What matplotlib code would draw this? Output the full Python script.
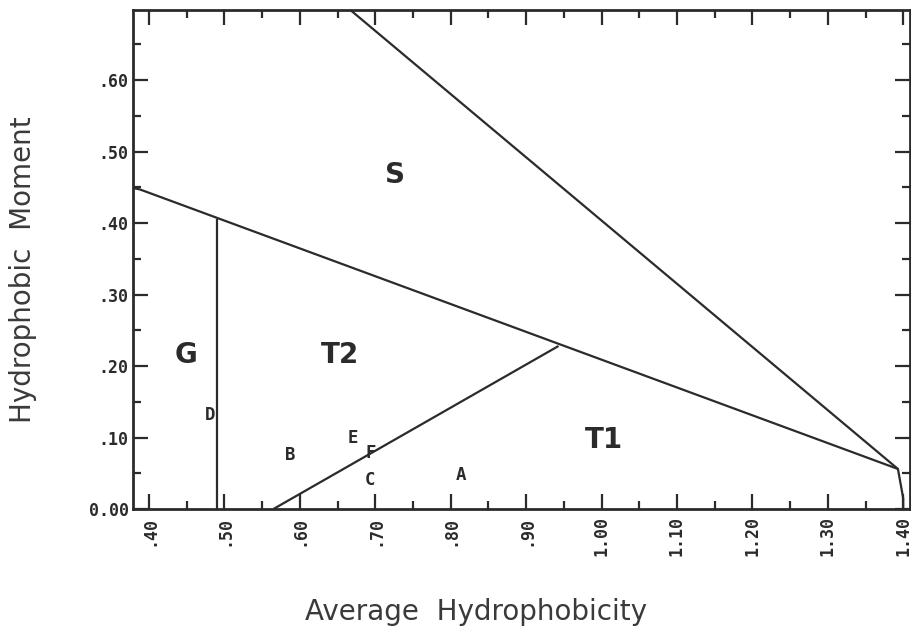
import matplotlib
matplotlib.use("Agg")
import matplotlib.pyplot as plt
from matplotlib.ticker import MultipleLocator

plt.rcParams["font.family"] = "DejaVu Sans"
ink = "#2b2b2b"

# boundary lines of the phase diagram
s_line_x = [0.667, 1.393, 1.40, 1.40]
s_line_y = [0.698, 0.056, 0.015, 0.0]
upper_x = [0.379, 0.388, 1.393]
upper_y = [0.449, 0.447, 0.056]
g_line_x = [0.490, 0.490]
g_line_y = [0.405, 0.0]
t_line_x = [0.565, 0.943]
t_line_y = [0.0, 0.228]

# region names
regions = ["S", "G", "T2", "T1"]
region_x = [0.726, 0.449, 0.653, 1.003]
region_y = [0.467, 0.215, 0.215, 0.097]

# peptides
peps = ["D", "B", "E", "F", "C", "A"]
pep_x = [0.481, 0.587, 0.670, 0.694, 0.693, 0.814]
pep_y = [0.131, 0.075, 0.100, 0.079, 0.040, 0.047]

xticks = [0.40, 0.50, 0.60, 0.70, 0.80, 0.90, 1.00, 1.10, 1.20, 1.30, 1.40]
xlabels = [".40", ".50", ".60", ".70", ".80", ".90", "1.00", "1.10", "1.20", "1.30", "1.40"]
yticks = [0.0, 0.1, 0.2, 0.3, 0.4, 0.5, 0.6]
ylabels = ["0.00", ".10", ".20", ".30", ".40", ".50", ".60"]

fig = plt.figure(figsize=(9.12, 6.33), dpi=100)
ax = fig.add_axes([133/912, 1 - 509/633, 777/912, 499/633])

for xs, ys in [(s_line_x, s_line_y), (upper_x, upper_y), (g_line_x, g_line_y), (t_line_x, t_line_y)]:
    ax.plot(xs, ys, color=ink, lw=1.6, solid_capstyle="butt", clip_on=False)

for name, x, y in zip(regions, region_x, region_y):
    ax.text(x, y, name, ha="center", va="center", fontsize=20, fontweight="bold", color=ink)

for name, x, y in zip(peps, pep_x, pep_y):
    ax.text(x, y, name, ha="center", va="center", fontsize=12.5, color=ink,
            family="DejaVu Sans Mono", fontweight="bold")

ax.set_xlim(0.3788, 1.409)
ax.set_ylim(0, 0.698)
ax.set_xticks(xticks)
ax.set_xticklabels(xlabels, rotation=90, fontsize=12, color=ink,
                   family="DejaVu Sans Mono", fontweight="bold")
ax.set_yticks(yticks)
ax.set_yticklabels(ylabels, fontsize=12, color=ink,
                   family="DejaVu Sans Mono", fontweight="bold")
ax.xaxis.set_minor_locator(MultipleLocator(0.05))
ax.yaxis.set_minor_locator(MultipleLocator(0.05))
ax.tick_params(which="both", direction="in", top=True, right=True, color=ink, width=1.6)
ax.tick_params(which="major", length=11, pad=5)
ax.tick_params(which="minor", length=6)
ax.tick_params(axis="y", which="major", pad=3)
for sp in ax.spines.values():
    sp.set_linewidth(2)
    sp.set_color(ink)

# axis titles, placed like the scanned figure
ax.set_xlabel("Average  Hydrophobicity", fontsize=20, color="#3a3a3a")
ax.set_ylabel("Hydrophobic  Moment", fontsize=20, color="#3a3a3a")
ax.xaxis.set_label_coords((476 - 133)/777, -(612 - 509)/499)
ax.xaxis.label.set_va("center")
ax.yaxis.set_label_coords(-(133 - 23)/777, (509 - 270)/499)
ax.yaxis.label.set_va("center")

fig.savefig("out.png", dpi=100)
